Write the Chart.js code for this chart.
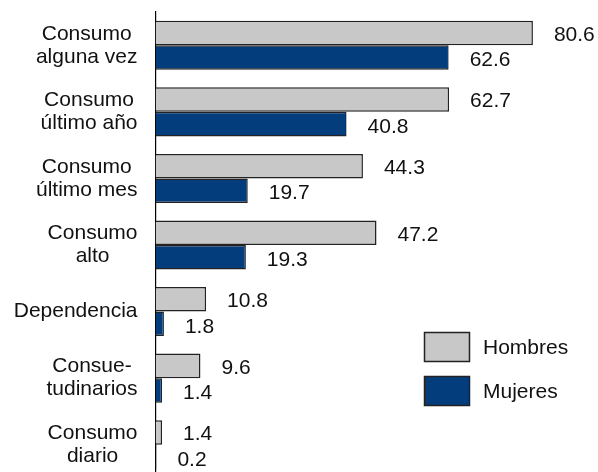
<!DOCTYPE html>
<html>
<head>
<meta charset="utf-8">
<script src="https://cdn.jsdelivr.net/npm/chart.js@4/dist/chart.umd.min.js"></script>
<style>
  html, body { margin: 0; padding: 0; background: #fff; overflow: hidden; }
  canvas { display: block; }
</style>
</head>
<body>
<canvas id="c" width="598" height="478"></canvas>
<script>
// categories and values
const categories = [
  ['Consumo', 'alguna vez'],
  ['Consumo', 'último año'],
  ['Consumo', 'último mes'],
  ['Consumo', 'alto'],
  ['Dependencia'],
  ['Consue-', 'tudinarios'],
  ['Consumo', 'diario'],
];
const hombres = [80.6, 62.7, 44.3, 47.2, 10.8, 9.6, 1.4];
const mujeres = [62.6, 40.8, 19.7, 19.3, 1.8, 1.4, 0.2];
const seriesNames = ['Hombres', 'Mujeres'];

const C = {
  gray: '#c8c8c8',
  blue: '#033d7c',
  edge: '#222',
  text: '#111',
};
const FONT = "'Liberation Sans', Arial, sans-serif";

// category labels: each block right-aligned, lines centred inside the block
const catLabels = {
  id: 'catLabels',
  afterDraw(chart) {
    const { ctx } = chart;
    const y = chart.scales.y;
    ctx.save();
    ctx.font = `21px ${FONT}`;
    ctx.fillStyle = C.text;
    ctx.textAlign = 'center';
    ctx.textBaseline = 'middle';
    const right = 137.5, lh = 23;
    categories.forEach((lines, i) => {
      const cy = y.getPixelForValue(i);
      const w = Math.max(...lines.map((l) => ctx.measureText(l).width));
      const cx = right - w / 2;
      lines.forEach((l, k) => {
        ctx.fillText(l, cx, cy + (k - (lines.length - 1) / 2) * lh);
      });
    });
    ctx.restore();
  },
};

// value labels to the right of each bar
const valueLabels = {
  id: 'valueLabels',
  afterDatasetsDraw(chart) {
    const { ctx } = chart;
    ctx.save();
    ctx.font = `21px ${FONT}`;
    ctx.fillStyle = C.text;
    ctx.textAlign = 'left';
    ctx.textBaseline = 'middle';
    chart.data.datasets.forEach((ds, di) => {
      chart.getDatasetMeta(di).data.forEach((bar, i) => {
        ctx.fillText(ds.data[i].toFixed(1), bar.x + 21, bar.y + (di ? 3 : 2));
      });
    });
    ctx.restore();
  },
};

// boxed legend in the lower right
const boxLegend = {
  id: 'boxLegend',
  afterDraw(chart) {
    const { ctx } = chart;
    ctx.save();
    ctx.font = `21px ${FONT}`;
    ctx.textBaseline = 'middle';
    chart.data.datasets.forEach((ds, i) => {
      const top = 332 + i * 44;
      ctx.fillStyle = ds.backgroundColor;
      ctx.fillRect(424, top, 46, 30);
      ctx.strokeStyle = C.edge;
      ctx.lineWidth = 1.5;
      ctx.strokeRect(424.5, top + 0.5, 45, 29);
      ctx.fillStyle = C.text;
      ctx.fillText(ds.label, 483, top + 16);
    });
    ctx.restore();
  },
};

new Chart(document.getElementById('c').getContext('2d'), {
  type: 'bar',
  data: {
    labels: categories.map((l) => l.join(' ')),
    datasets: [
      {
        label: seriesNames[0],
        data: hombres,
        backgroundColor: C.gray,
        borderColor: C.edge,
        borderWidth: 1.5,
      },
      {
        label: seriesNames[1],
        data: mujeres,
        backgroundColor: C.blue,
        borderColor: C.edge,
        borderWidth: 1.5,
      },
    ],
  },
  options: {
    indexAxis: 'y',
    responsive: false,
    animation: false,
    devicePixelRatio: 1,
    layout: { padding: { top: 12, right: 0, bottom: 0, left: 0 } },
    datasets: { bar: { categoryPercentage: 0.737, barPercentage: 1 } },
    scales: {
      x: { display: false, min: 0, max: 94.5 },
      y: {
        grid: { display: false },
        border: { display: true, color: '#000', width: 1.2 },
        ticks: { display: false },
        afterFit: (s) => { s.width = 155.5; },
      },
    },
    plugins: {
      legend: { display: false },
      tooltip: { enabled: false },
    },
  },
  plugins: [catLabels, valueLabels, boxLegend],
});
</script>
</body>
</html>
